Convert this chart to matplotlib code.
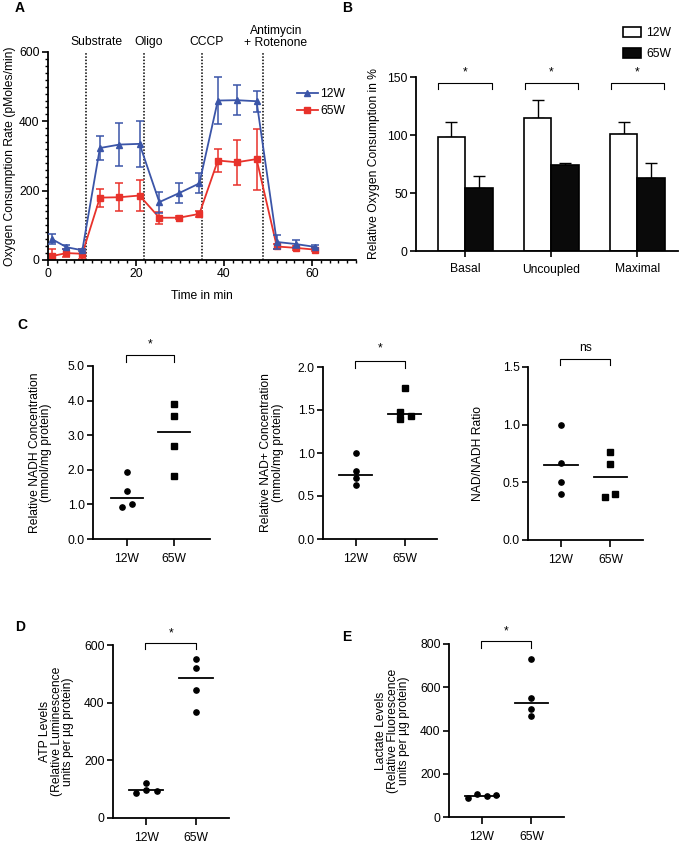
import matplotlib
matplotlib.use("Agg")
import matplotlib.pyplot as plt
from matplotlib.patches import Patch
from matplotlib.lines import Line2D
from matplotlib.ticker import MultipleLocator
import numpy as np

FS = 8.7
plt.rcParams['font.family'] = ['Liberation Sans', 'DejaVu Sans']
plt.rcParams['font.size'] = FS

# ---------------- Data ----------------
# Panel A: Oxygen consumption rate time course
time_12w = [0.8, 4.2, 7.8, 11.8, 16.2, 20.8, 25.3, 29.8, 34.4, 38.6, 42.9, 47.4, 52.0, 56.3, 60.6]
ocr_12w = [61, 37, 28, 323, 333, 335, 167, 193, 221, 460, 461, 458, 52, 46, 38]
err_12w = [15, 5, 3, 34, 63, 67, 30, 28, 29, 69, 43, 30, 20, 11, 4]
time_65w = time_12w
ocr_65w = [11, 20, 18, 180, 181, 186, 122, 122, 133, 287, 282, 291, 39, 35, 30]
err_65w = [20, 12, 14, 26, 40, 44, 17, 5, 8, 32, 65, 88, 6, 5, 5]
injection_times = [8.6, 21.9, 35.0, 48.9]
injection_labels = ["Substrate", "Oligo", "CCCP", "Antimycin\n+ Rotenone"]

# Panel B: relative oxygen consumption
b_categories = ["Basal", "Uncoupled", "Maximal"]
b_12w = [98.6, 114.5, 101.2]
b_12w_err = [12.2, 15.9, 10.4]
b_65w = [53.9, 73.8, 62.9]
b_65w_err = [11.0, 2.3, 12.7]

groups = ["12W", "65W"]

# Panel C: NADH, NAD+, ratio
nadh_12w = [0.93, 1.01, 1.39, 1.94]
nadh_65w = [3.91, 3.55, 2.68, 1.83]
nadh_mean = [1.19, 3.10]
nad_12w = [1.00, 0.79, 0.71, 0.63]
nad_65w = [1.76, 1.48, 1.39, 1.43]
nad_mean = [0.75, 1.45]
ratio_12w = [1.00, 0.67, 0.50, 0.40]
ratio_65w = [0.76, 0.655, 0.37, 0.40]
ratio_mean = [0.646, 0.547]

# Panel D: ATP
atp_12w = [122.8, 88.0, 98.5, 93.8]
atp_65w = [550, 520, 445, 366]
atp_mean = [96, 484]

# Panel E: Lactate
lac_12w = [89.6, 106.6, 95.8, 101.9]
lac_65w = [729, 551, 498, 466]
lac_mean = [98.8, 525]

# ---------------- Layout ----------------
W, H = 680, 844
fig = plt.figure(figsize=(W / 100, H / 100), dpi=100)

def px_axes(l, t, r, b):
    return fig.add_axes([l / W, 1 - b / H, (r - l) / W, (b - t) / H])

def style_axes(ax):
    for s in ['top', 'right']:
        ax.spines[s].set_visible(False)
    for s in ['left', 'bottom']:
        ax.spines[s].set_linewidth(1.3)
    ax.tick_params(axis='both', which='major', direction='out', length=4, width=1.2,
                   labelsize=FS, pad=2)
    ax.tick_params(axis='both', which='minor', direction='out', length=2, width=1.0)

def bracket(ax, x0, x1, ytop, ytip, label, ylab):
    ax.plot([x0, x0, x1, x1], [ytip, ytop, ytop, ytip], color='black', lw=0.8,
            clip_on=False)
    ax.text((x0 + x1) / 2, ylab, label, ha='center', va='center', fontsize=FS,
            clip_on=False)

BLUE = '#3b55a8'
RED = '#e8322b'

# ---------------- Panel A ----------------
axA = px_axes(48, 52, 356, 260)
style_axes(axA)
axA.errorbar(time_12w, ocr_12w, yerr=err_12w, color=BLUE, marker='^', ms=4.5,
             lw=1.3, capsize=3, elinewidth=1.1, capthick=1.1, label='12W', zorder=3)
axA.errorbar(time_65w, ocr_65w, yerr=err_65w, color=RED, marker='s', ms=4.2,
             lw=1.3, capsize=3, elinewidth=1.1, capthick=1.1, label='65W', zorder=2)
for t in injection_times:
    axA.axvline(t, color='black', ls=(0, (1, 1.1)), lw=1.1, zorder=1)
axA.set_xlim(0, 70)
axA.set_ylim(0, 600)
axA.set_xticks([0, 20, 40, 60])
axA.set_yticks([0, 200, 400, 600])
axA.xaxis.set_minor_locator(MultipleLocator(2))
axA.yaxis.set_minor_locator(MultipleLocator(20))
axA.set_xlabel("Time in min", fontsize=FS, labelpad=7)
axA.set_ylabel("Oxygen Consumption Rate (pMoles/min)", fontsize=FS, labelpad=2)
label_x_px = [96, 149, 207, 276]
label_y_px = [42, 42, 42, 37]
for lab, lx, ly in zip(injection_labels, label_x_px, label_y_px):
    fig.text(lx / W, 1 - ly / H, lab, ha='center', va='center', fontsize=FS,
             linespacing=0.95)
handles = [Line2D([], [], color=BLUE, marker='^', ms=4.5, lw=1.3),
           Line2D([], [], color=RED, marker='s', ms=4.2, lw=1.3)]
axA.legend(handles, groups, loc='upper left', bbox_to_anchor=(297 / W, 1 - 88 / H),
           bbox_transform=fig.transFigure, frameon=False, fontsize=FS,
           handlelength=1.7, handletextpad=0.25, labelspacing=0.45, borderpad=0,
           borderaxespad=0)

# ---------------- Panel B ----------------
axB = px_axes(416, 77, 678, 251)
style_axes(axB)
xb = np.arange(len(b_categories))
bw = 0.32
axB.bar(xb - bw / 2, b_12w, bw, color='white', edgecolor='black', lw=1.2, zorder=2)
axB.bar(xb + bw / 2, b_65w, bw, color='#0a0a0a', edgecolor='black', lw=1.2, zorder=2)
axB.errorbar(xb - bw / 2, b_12w, yerr=[np.zeros(3), b_12w_err], fmt='none',
             ecolor='black', elinewidth=1.0, capsize=4, capthick=1.0, zorder=1)
axB.errorbar(xb + bw / 2, b_65w, yerr=[np.zeros(3), b_65w_err], fmt='none',
             ecolor='black', elinewidth=1.0, capsize=4, capthick=1.0, zorder=1)
axB.set_xlim(-0.57, 2.47)
axB.set_ylim(0, 150)
axB.set_yticks([0, 50, 100, 150])
axB.set_xticks(xb)
axB.set_xticklabels(b_categories)
axB.tick_params(axis='x', pad=5)
axB.set_ylabel("Relative Oxygen Consumption in %", fontsize=FS, labelpad=5)
for x in xb:
    bracket(axB, x - 0.31, x + 0.31, 145, 139.5, '*', 154)
legB = [Patch(facecolor='white', edgecolor='black', lw=1.2),
        Patch(facecolor='#0a0a0a', edgecolor='black', lw=1.2)]
axB.legend(legB, groups, loc='upper left', bbox_to_anchor=(623 / W, 1 - 27 / H),
           bbox_transform=fig.transFigure, frameon=False, fontsize=FS,
           handlelength=1.5, handleheight=0.9, handletextpad=0.4, labelspacing=0.75,
           borderpad=0, borderaxespad=0)

# ---------------- Dot plots ----------------
def dot_panel(ax, v12, v65, means, off12, off65, m12, m65, ylim, yticks, fmt,
              ylabel, sig, br, lpad, ls):
    style_axes(ax)
    ax.plot(np.array(off12) + 0, v12, ls='none', marker=m12, ms=3.8, color='black',
            zorder=3)
    ax.plot(np.array(off65) + 1, v65, ls='none', marker=m65, ms=3.8, color='black',
            zorder=3)
    for i, m in enumerate(means):
        ax.plot([i - 0.34, i + 0.34], [m, m], color='black', lw=1.3, zorder=2)
    ax.set_xlim(-0.67, 1.66)
    ax.set_ylim(*ylim)
    ax.set_yticks(yticks)
    ax.set_yticklabels([fmt.format(v) for v in yticks])
    ax.set_xticks([0, 1])
    ax.set_xticklabels(groups)
    ax.tick_params(axis='x', length=5, pad=5)
    ax.set_ylabel(ylabel, fontsize=FS, labelpad=lpad, linespacing=ls)
    bracket(ax, -0.02, 1.0, br[0], br[1], sig, br[2])

axC1 = px_axes(93, 366, 210, 539)
dot_panel(axC1, nadh_12w, nadh_65w, nadh_mean, [-0.11, 0.11, 0, 0], [0, 0, 0, 0],
          'o', 's', (0, 5), [0, 1, 2, 3, 4, 5], '{:.1f}',
          "Relative NADH Concentration\n(mmol/mg protein)", '*', (5.33, 5.13, 5.62), 11, 0.95)
axC1.set_xlim(-0.72, 1.77)

axC2 = px_axes(323, 367, 437, 539)
dot_panel(axC2, nad_12w, nad_65w, nad_mean, [0, 0, 0, 0], [0, -0.1, -0.1, 0.12],
          'o', 's', (0, 2), [0, 0.5, 1.0, 1.5, 2.0], '{:.1f}',
          "Relative NAD+ Concentration\n(mmol/mg protein)", '*', (2.065, 1.99, 2.22), 10, 0.95)

axC3 = px_axes(528, 367, 643, 540)
dot_panel(axC3, ratio_12w, ratio_65w, ratio_mean, [0, 0, 0, 0], [0, 0, -0.11, 0.1],
          'o', 's', (0, 1.5), [0, 0.5, 1.0, 1.5], '{:.1f}',
          "NAD/NADH Ratio", 'ns', (1.57, 1.52, 1.665), 13, 1.0)

axD = px_axes(113, 645, 229, 818)
dot_panel(axD, atp_12w, atp_65w, atp_mean, [0, -0.21, 0, 0.21], [0, 0, 0, 0],
          'o', 'o', (0, 600), [0, 200, 400, 600], '{:.0f}',
          "ATP Levels\n(Relative Luminescence\nunits per µg protein)", '*',
          (608, 585, 641), 7, 0.97)

axE = px_axes(449, 644, 564, 817)
dot_panel(axE, lac_12w, lac_65w, lac_mean, [-0.28, -0.1, 0.09, 0.28], [0, 0, 0, 0],
          'o', 'o', (0, 800), [0, 200, 400, 600, 800], '{:.0f}',
          "Lactate Levels\n(Relative Fluorescence\nunits per µg protein)", '*',
          (814, 783, 858), 7, 0.97)

# ---------------- Panel letters ----------------
for lab, x, y in [("A", 20, 8), ("B", 347, 8), ("C", 22, 325), ("D", 20, 627),
                  ("E", 347, 637)]:
    fig.text(x / W, 1 - y / H, lab, ha='center', va='center', fontsize=10,
             fontweight='bold')

fig.savefig("out.png", dpi=100)
